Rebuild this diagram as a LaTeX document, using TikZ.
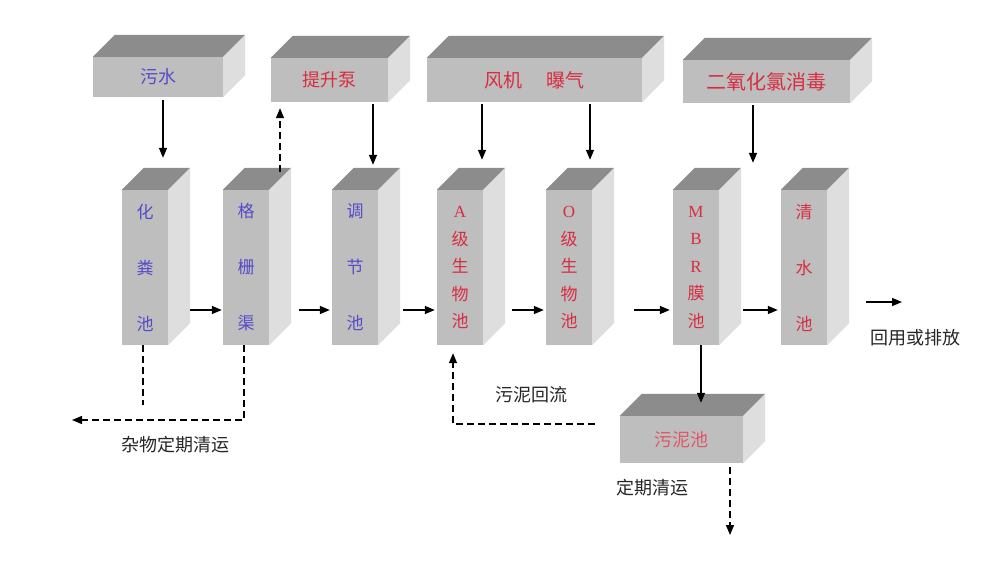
\documentclass[tikz,border=0pt]{standalone}
\usepackage{fontspec}
\setmainfont{Liberation Serif}
\newfontfamily\cjk{Noto Sans CJK SC}
\usetikzlibrary{arrows.meta}
\definecolor{frontgray}{RGB}{190,190,190}
\definecolor{topgray}{RGB}{140,140,140}
\definecolor{sidegray}{RGB}{222,222,222}
\definecolor{txtblue}{RGB}{85,75,200}
\definecolor{txtred}{RGB}{215,45,65}
\newcommand\serifch[1]{{\rmfamily #1}}

\begin{document}
\begin{tikzpicture}
  [x=1pt, y=-1pt,
   front/.style={fill=frontgray, inner sep=0pt},
   tank/.style={front, minimum width=46pt, minimum height=155pt, align=center},
   tank3/.style={tank, font=\cjk\fontsize{17}{56}\selectfont},
   tank5/.style={tank, font=\cjk\fontsize{17}{27.5}\selectfont},
   feed/.style={front, font=\cjk\fontsize{19}{19}\selectfont},
   note/.style={text=black!85, font=\cjk\fontsize{18}{18}\selectfont},
   flow/.style={line width=1.4pt, -{Triangle[length=10pt,width=8pt]}},
   dflow/.style={flow, dash pattern=on 7pt off 4pt},
   dline/.style={line width=1.4pt, dash pattern=on 7pt off 4pt}]
  \fill[white] (0,0) rectangle (1000,563);
  \useasboundingbox (0,0) rectangle (1000,563);

  \node[feed, minimum width=130pt, minimum height=40pt, text=txtblue,
        font=\cjk\fontsize{18}{18}\selectfont] (wushui) at (158,77) {污水};
  \node[feed, minimum width=117pt, minimum height=44pt, text=txtred,
        font=\cjk\fontsize{18}{18}\selectfont] (tisheng) at (329.5,80) {提升泵};
  \node[feed, minimum width=215pt, minimum height=44pt, text=txtred] (fengji) at (534.5,80) {风机\hspace{1.3em}曝气};
  \node[feed, minimum width=167pt, minimum height=43pt, text=txtred,
        font=\cjk\fontsize{20}{20}\selectfont] (eryang) at (766.5,81.5) {二氧化氯消毒};

  \node[tank3, text=txtblue] (hfc) at (145,267.5) {化\\粪\\池};
  \node[tank3, text=txtblue] (ggq) at (246,267.5) {格\\栅\\渠};
  \node[tank3, text=txtblue] (tjc) at (355,267.5) {调\\节\\池};
  \node[tank5, text=txtred] (aji) at (460,267.5) {\serifch{A}\\级\\生\\物\\池};
  \node[tank5, text=txtred] (oji) at (569,267.5) {\serifch{O}\\级\\生\\物\\池};
  \node[tank5, text=txtred] (mbr) at (696,267.5) {\serifch{M}\\\serifch{B}\\\serifch{R}\\膜\\池};
  \node[tank3, text=txtred] (qsc) at (804,267.5) {清\\水\\池};

  \node[feed, minimum width=123pt, minimum height=47pt, text=txtred!80,
        font=\cjk\fontsize{18}{18}\selectfont] (wnc) at (681.5,439.5) {污泥池};

  \foreach \n in {wushui,tisheng,fengji,eryang,hfc,ggq,tjc,aji,oji,mbr,qsc,wnc}{
    \fill[topgray] (\n.north west) -- ++(22,-22) -- ([shift={(22,-22)}]\n.north east) -- (\n.north east) -- cycle;
    \fill[sidegray] (\n.north east) -- ++(22,-22) -- ([shift={(22,-22)}]\n.south east) -- (\n.south east) -- cycle;
  }

  \coordinate (zw1) at (143,405);
  \coordinate (zwout) at (72,420);
  \coordinate (huiyong) at (902,302);
  \coordinate (qingyun) at (730,535);

  \draw[flow] ([shift={(5,3)}]wushui.south) -- ([shift={(18,-32)}]hfc.north);
  \draw[dflow] ([shift={(34,-18)}]ggq.north) -- ([shift={(-49.5,6)}]tisheng.south);
  \draw[flow] ([shift={(43.5,2)}]tisheng.south) -- ([shift={(18,-25)}]tjc.north);
  \draw[flow] ([shift={(-52.5,2)}]fengji.south) -- ([shift={(22,-30)}]aji.north);
  \draw[flow] ([shift={(55.5,2)}]fengji.south) -- ([shift={(21,-30)}]oji.north);
  \draw[flow] ([shift={(-13.5,2)}]eryang.south) -- ([shift={(57,-27)}]mbr.north);

  \draw[flow] ([shift={(22,42.5)}]hfc.east) -- ([shift={(-1,42.5)}]ggq.west);
  \draw[flow] ([shift={(30,42.5)}]ggq.east) -- ([shift={(-2,42.5)}]tjc.west);
  \draw[flow] ([shift={(25,42.5)}]tjc.east) -- ([shift={(-2,42.5)}]aji.west);
  \draw[flow] ([shift={(29,42.5)}]aji.east) -- ([shift={(-2,42.5)}]oji.west);
  \draw[flow] ([shift={(42,42.5)}]oji.east) -- ([shift={(-3,42.5)}]mbr.west);
  \draw[flow] ([shift={(24,42.5)}]mbr.east) -- ([shift={(-3,42.5)}]qsc.west);
  \draw[flow] ([shift={(39,34.5)}]qsc.east) -- (huiyong);

  \draw[dline] ([xshift=-2]hfc.south) -- (zw1);
  \draw[dflow] ([xshift=-2]ggq.south) |- (zwout);
  \draw[dflow] ([shift={(-25,-15.5)}]wnc.west) -| ([shift={(-7,8)}]aji.south);
  \draw[flow] ([xshift=5]mbr.south) -- ([shift={(19.5,-13)}]wnc.north);
  \draw[dflow] ([shift={(48.5,4)}]wnc.south) -- (qingyun);

  \node[note] (zwtext) at (175,445) {杂物定期清运};
  \node[note] (hltext) at (531,395) {污泥回流};
  \node[note] (hytext) at (915,338) {回用或排放};
  \node[note] (qytext) at (652,488) {定期清运};
\end{tikzpicture}
\end{document}
